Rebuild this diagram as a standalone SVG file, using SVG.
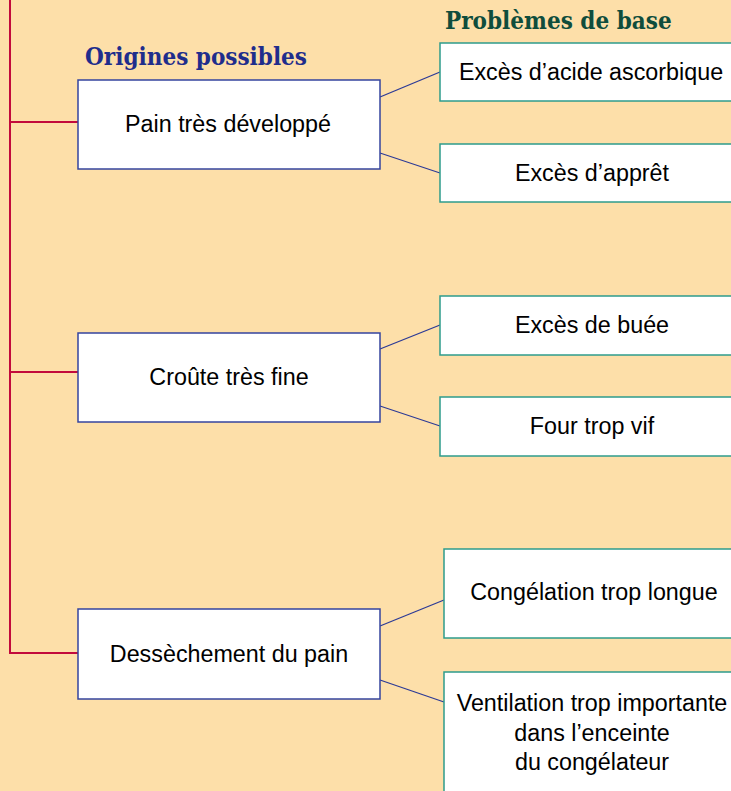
<svg xmlns="http://www.w3.org/2000/svg" width="731" height="791" viewBox="0 0 731 791">
  <style>
    .origin { fill: #ffffff; stroke: #34449e; stroke-width: 1.5; }
    .problem { fill: #ffffff; stroke: #2e9c8c; stroke-width: 1.5; }
    .label { font-family: "Liberation Sans", Arial, sans-serif; font-size: 23.3px; fill: #000000; text-anchor: middle; }
    .title { font-family: "DejaVu Serif Condensed", "DejaVu Serif", serif; font-stretch: condensed; font-weight: bold; font-size: 24px; }
    .branch { fill: none; stroke: #c20a3c; stroke-width: 2; }
    .link { fill: none; stroke: #2c3a96; stroke-width: 1.3; }
  </style>

  <rect x="0" y="0" width="731" height="791" fill="#fddfa9"/>

  <!-- column headings -->
  <text class="title" x="85" y="65" fill="#1f2d8c">Origines possibles</text>
  <text class="title" x="445" y="29" fill="#0f4d3c">Problèmes de base</text>

  <!-- connectors -->
  <g id="connectors">
    <path class="branch" d="M10 0 V653 H78 M10 122 H78 M10 372 H78"/>
    <line class="link" x1="380" y1="97" x2="440" y2="72"/>
    <line class="link" x1="380" y1="153" x2="440" y2="173"/>
    <line class="link" x1="380" y1="349" x2="440" y2="325"/>
    <line class="link" x1="380" y1="406" x2="440" y2="426"/>
    <line class="link" x1="380" y1="626" x2="444" y2="600"/>
    <line class="link" x1="380" y1="680" x2="444" y2="702"/>
  </g>

  <!-- origins -->
  <g id="pain-tres-developpe">
    <rect class="origin" x="78" y="80" width="302" height="89"/>
    <text class="label" x="228" y="132">Pain très développé</text>
  </g>
  <g id="croute-tres-fine">
    <rect class="origin" x="78" y="333" width="302" height="89"/>
    <text class="label" x="229" y="385">Croûte très fine</text>
  </g>
  <g id="dessechement-du-pain">
    <rect class="origin" x="78" y="609" width="302" height="90"/>
    <text class="label" x="229" y="662">Dessèchement du pain</text>
  </g>

  <!-- base problems -->
  <g id="exces-acide-ascorbique">
    <rect class="problem" x="440" y="43" width="305" height="58"/>
    <text class="label" x="591" y="80">Excès d’acide ascorbique</text>
  </g>
  <g id="exces-appret">
    <rect class="problem" x="440" y="144" width="305" height="58"/>
    <text class="label" x="592" y="181">Excès d’apprêt</text>
  </g>
  <g id="exces-de-buee">
    <rect class="problem" x="440" y="296" width="305" height="59"/>
    <text class="label" x="592" y="333">Excès de buée</text>
  </g>
  <g id="four-trop-vif">
    <rect class="problem" x="440" y="397" width="305" height="59"/>
    <text class="label" x="592" y="434">Four trop vif</text>
  </g>
  <g id="congelation-trop-longue">
    <rect class="problem" x="444" y="549" width="301" height="89"/>
    <text class="label" x="594" y="600">Congélation trop longue</text>
  </g>
  <g id="ventilation-trop-importante">
    <rect class="problem" x="444" y="672" width="301" height="140"/>
    <text class="label" x="592" y="711">Ventilation trop importante</text>
    <text class="label" x="592" y="741">dans l’enceinte</text>
    <text class="label" x="592" y="770">du congélateur</text>
  </g>
</svg>
